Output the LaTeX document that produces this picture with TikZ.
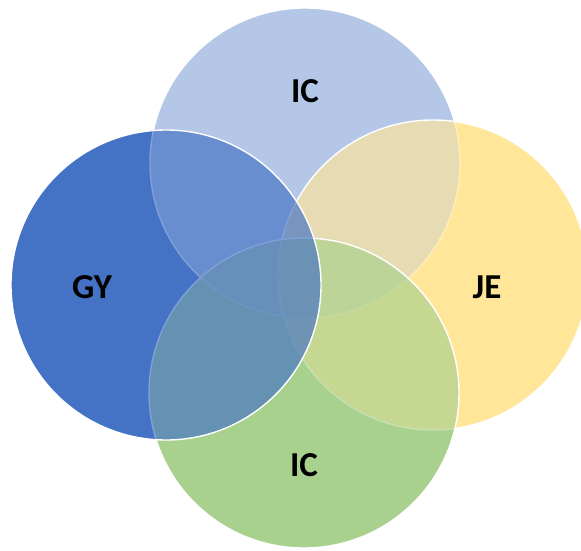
\documentclass[tikz,border=0pt]{standalone}
\usepackage{fontspec}
\setmainfont{Carlito}
\definecolor{topblue}{RGB}{180,199,231}
\definecolor{leftblue}{RGB}{68,114,196}
\definecolor{rightyellow}{RGB}{255,230,153}
\definecolor{bottomgreen}{RGB}{169,209,142}
\begin{document}
\begin{tikzpicture}[x=1pt,y=1pt,
  setlabel/.style={font=\bfseries\fontsize{35}{42}\selectfont, text=black, inner sep=0pt},
  veil/.style={fill=#1, fill opacity=0.67, draw=white, line width=1.4pt}]
\useasboundingbox (0,0) rectangle (581,550);
\clip (0,0) rectangle (581,550);
\def\rad{155}
% circle centres
\coordinate (cT) at (305,387);
\coordinate (cL) at (166,265);
\coordinate (cR) at (433,275);
\coordinate (cB) at (304,157);
% solid base layer, painted from the uppermost circle down,
% so every point shows the colour of the lowest circle covering it
\fill[leftblue]    (cL) circle[radius=\rad];
\fill[bottomgreen] (cB) circle[radius=\rad];
\fill[rightyellow] (cR) circle[radius=\rad];
\fill[topblue]     (cT) circle[radius=\rad];
% translucent layer, from the lowest circle up, with white outlines
\path[veil=topblue]     (cT) circle[radius=\rad];
\path[veil=rightyellow] (cR) circle[radius=\rad];
\path[veil=bottomgreen] (cB) circle[radius=\rad];
\path[veil=leftblue]    (cL) circle[radius=\rad];
% set labels
\node[setlabel] (icTop) at (305,459) {IC};
\node[setlabel] (gy)    at (92,263)  {GY};
\node[setlabel] (je)    at (487,263) {JE};
\node[setlabel] (icBot) at (304,85)  {IC};
\end{tikzpicture}
\end{document}
